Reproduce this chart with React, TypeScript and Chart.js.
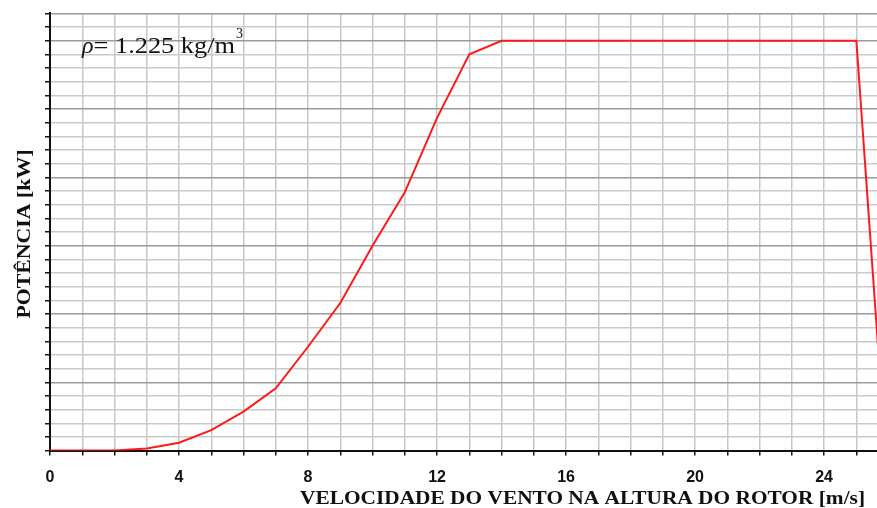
import React, { useEffect, useRef } from "react";
import { Chart, registerables } from "chart.js";

Chart.register(...registerables);

const speeds = [0, 1, 2, 3, 4, 5, 6, 7, 8, 9, 10, 11, 12, 13, 14, 15, 16, 17, 18, 19, 20, 21, 22, 23, 24, 25, 25.9];
const power = [0, 0, 0, 0.15, 0.58, 1.5, 2.85, 4.56, 7.6, 10.8, 15.0, 18.9, 24.35, 29.0, 30, 30, 30, 30, 30, 30, 30, 30, 30, 30, 30, 30, 0];
const xLabels = [0, 4, 8, 12, 16, 20, 24];
const xTitle = "VELOCIDADE DO VENTO NA ALTURA DO ROTOR [m/s]";
const yTitle = "POTÊNCIA [kW]";
const note = "= 1.225 kg/m";

const textPlugin = {
  id: "texts",
  afterDraw(chart: any) {
    const ctx = chart.ctx;
    ctx.save();
    ctx.fillStyle = "#111";
    // x title
    ctx.font = "bold 19px 'Liberation Serif'";
    ctx.textBaseline = "alphabetic";
    ctx.textAlign = "left";
    const w = ctx.measureText(xTitle).width;
    const target = 565;
    ctx.save();
    ctx.translate(300, 504);
    ctx.scale(target / w, 1);
    ctx.fillText(xTitle, 0, 0);
    ctx.restore();
    // y title
    ctx.save();
    ctx.translate(30, 234);
    ctx.rotate(-Math.PI / 2);
    ctx.font = "bold 19px 'Liberation Serif'";
    const yw = ctx.measureText(yTitle).width;
    ctx.scale(169 / yw, 1);
    ctx.textAlign = "center";
    ctx.fillText(yTitle, 0, 0);
    ctx.restore();
    // annotation
    ctx.font = "italic 24px 'Liberation Serif'";
    ctx.textAlign = "left";
    ctx.fillText("\u03C1", 82, 53);
    const rw = ctx.measureText("\u03C1").width;
    ctx.font = "23px 'Liberation Serif'";
    const nw0 = ctx.measureText(note).width;
    const avail = 235 - 82 - rw;
    ctx.save();
    ctx.translate(82 + rw, 53);
    ctx.scale(avail / nw0, 1);
    ctx.fillText(note, 0, 0);
    ctx.restore();
    ctx.font = "14px 'Liberation Serif'";
    ctx.fillText("3", 236, 38);
    ctx.restore();
  },
};

export default function App() {
  const ref = useRef<HTMLCanvasElement | null>(null);
  useEffect(() => {
    if (!ref.current) return;
    const chart = new Chart(ref.current, {
      type: "line",
      data: {
        datasets: [
          {
            data: speeds.map((s, i) => ({ x: s, y: power[i] })),
            borderColor: "#ff1a1a",
            borderWidth: 2,
            pointRadius: 0,
            tension: 0,
            fill: false,
          },
        ],
      },
      options: {
        animation: false,
        responsive: false,
        events: [],
        layout: { padding: { top: 13.4, right: 0, left: 0, bottom: 0 } },
        plugins: { legend: { display: false }, tooltip: { enabled: false } },
        scales: {
          x: {
            type: "linear",
            min: 0,
            max: 25.64,
            afterFit: (s: any) => {
              s.height = 57.4;
            },
            border: { color: "#111", width: 2 },
            grid: {
              color: "#c8c8c8",
              lineWidth: 1.5,
              tickLength: 5,
              tickColor: "#111",
              tickWidth: 1.5,
            },
            ticks: {
              stepSize: 1,
              autoSkip: false,
              includeBounds: false,
              maxRotation: 0,
              padding: 12,
              color: "#111",
              font: { family: "'Liberation Sans'", weight: "bold", size: 16 },
              callback: (v: any) => (xLabels.includes(Number(v)) ? String(v) : ""),
            },
          },
          y: {
            type: "linear",
            min: 0,
            max: 32,
            afterFit: (s: any) => {
              s.width = 50;
            },
            border: { color: "#111", width: 2 },
            grid: {
              color: (c: any) =>
                c.tick && (c.tick.value % 5 === 0 || c.tick.value === 32) ? "#9a9a9a" : "#cacaca",
              lineWidth: 1.5,
              tickLength: 5,
              tickColor: "#111",
              tickWidth: 1.5,
            },
            ticks: {
              stepSize: 1,
              autoSkip: false,
              includeBounds: false,
              padding: 0,
              callback: () => "",
            },
          },
        },
      },
      plugins: [textPlugin],
    } as any);
    return () => chart.destroy();
  }, []);
  return (
    <div style={{ position: "fixed", left: 0, top: 0, width: 877, height: 508, background: "#fff" }}>
      <canvas ref={ref} width={877} height={508} style={{ width: 877, height: 508, display: "block" }} />
    </div>
  );
}
